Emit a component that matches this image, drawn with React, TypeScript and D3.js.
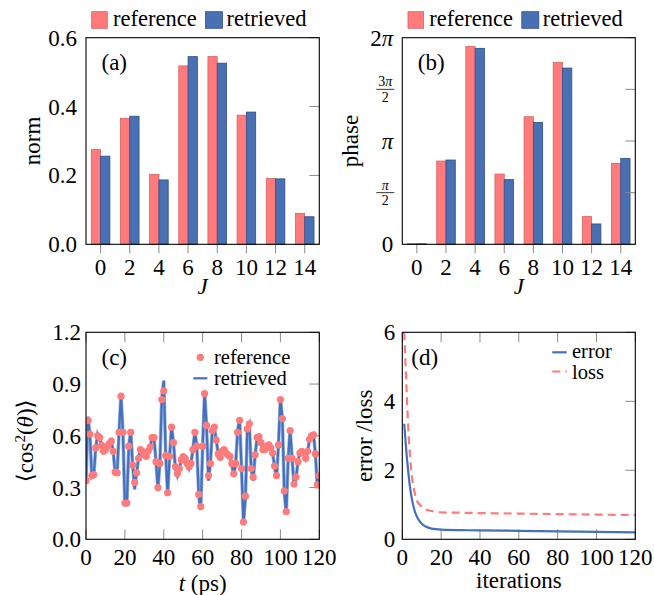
import React from 'react';
import * as d3 from 'd3';

const FONT = '"Liberation Serif", "DejaVu Serif", serif';
const RED = '#FF7B7B';
const RED_EDGE = '#D9625F';
const BLUE = '#4A70B4';
const BLUE_EDGE = '#2F4E8A';
const LINE_BLUE = '#4470BF';
const TICK = '#8a8a8a';

// ---- data ----
const J = [0, 2, 4, 6, 8, 10, 12, 14];
const normRef = [0.275, 0.366, 0.203, 0.518, 0.545, 0.375, 0.191, 0.09];
const normRet = [0.256, 0.372, 0.187, 0.545, 0.526, 0.384, 0.19, 0.08];
// phase in units of pi
const phaseRef = [0.006, 0.806, 1.916, 0.68, 1.235, 1.761, 0.268, 0.784];
const phaseRet = [0.005, 0.816, 1.897, 0.626, 1.18, 1.706, 0.197, 0.832];

const normTicks = [0, 0.2, 0.4, 0.6];
const phaseTicks = [0, 0.5, 1, 1.5, 2];

const cosRef = [
  0.34, 0.69, 0.61, 0.37, 0.375, 0.53, 0.60, 0.59, 0.545, 0.51,
  0.52, 0.54, 0.555, 0.57, 0.51, 0.39, 0.385, 0.62, 0.83, 0.62,
  0.21, 0.21, 0.54, 0.62, 0.43, 0.33, 0.385, 0.47, 0.52, 0.51,
  0.49, 0.48, 0.51, 0.535, 0.59, 0.59, 0.45, 0.30, 0.44, 0.81,
  0.86, 0.485, 0.27, 0.48, 0.65, 0.56, 0.42, 0.38, 0.41, 0.46,
  0.48, 0.47, 0.44, 0.42, 0.44, 0.52, 0.62, 0.54, 0.26, 0.19,
  0.54, 0.845, 0.66, 0.37, 0.44, 0.63, 0.65, 0.575, 0.495, 0.475,
  0.51, 0.52, 0.50, 0.49, 0.48, 0.44, 0.38, 0.44, 0.62, 0.69,
  0.41, 0.10, 0.25, 0.64, 0.67, 0.41, 0.36, 0.49, 0.59, 0.595,
  0.56, 0.52, 0.52, 0.54, 0.547, 0.53, 0.50, 0.425, 0.37, 0.547,
  0.81, 0.70, 0.28, 0.16, 0.47, 0.63, 0.47, 0.32, 0.36, 0.45,
  0.50, 0.51, 0.50, 0.47, 0.51, 0.58, 0.60, 0.605, 0.495, 0.315, 0.37,
];
const cosRet = [
  0.33, 0.71, 0.61, 0.36, 0.37, 0.53, 0.61, 0.59, 0.545, 0.51,
  0.52, 0.54, 0.555, 0.57, 0.51, 0.38, 0.38, 0.62, 0.84, 0.62,
  0.20, 0.20, 0.54, 0.63, 0.43, 0.29, 0.38, 0.47, 0.52, 0.51,
  0.49, 0.48, 0.51, 0.535, 0.59, 0.59, 0.45, 0.29, 0.44, 0.82,
  0.92, 0.485, 0.26, 0.48, 0.66, 0.56, 0.41, 0.37, 0.41, 0.46,
  0.48, 0.47, 0.44, 0.41, 0.44, 0.52, 0.63, 0.54, 0.25, 0.17,
  0.54, 0.86, 0.66, 0.34, 0.44, 0.64, 0.65, 0.575, 0.495, 0.475,
  0.51, 0.52, 0.50, 0.49, 0.48, 0.43, 0.37, 0.44, 0.63, 0.70,
  0.41, 0.09, 0.24, 0.65, 0.67, 0.40, 0.34, 0.49, 0.59, 0.595,
  0.56, 0.52, 0.52, 0.54, 0.547, 0.53, 0.50, 0.42, 0.35, 0.547,
  0.82, 0.70, 0.27, 0.15, 0.47, 0.64, 0.47, 0.31, 0.35, 0.45,
  0.50, 0.51, 0.50, 0.47, 0.51, 0.58, 0.60, 0.61, 0.495, 0.30, 0.37,
];
const times = cosRef.map((_, i) => i);
const cosTicks = [0, 0.3, 0.6, 0.9, 1.2];
const timeTicks = [0, 20, 40, 60, 80, 100, 120];

const iters = [1, 2, 3, 4, 5, 6, 7, 8, 10, 12, 15, 20, 30, 40, 60, 80, 100, 120];
const errorVals = [3.35, 2.6, 2.0, 1.5, 1.15, 0.9, 0.72, 0.6, 0.45, 0.37, 0.31, 0.28, 0.265, 0.26, 0.245, 0.23, 0.215, 0.2];
const lossVals = [6.0, 4.6, 3.3, 2.4, 1.8, 1.45, 1.2, 1.07, 0.95, 0.87, 0.82, 0.78, 0.77, 0.76, 0.745, 0.73, 0.715, 0.705];
const lossTicks = [0, 2, 4, 6];
const iterTicks = [0, 20, 40, 60, 80, 100, 120];

// ---- layout ----
const TOP1 = 37.7, BOT1 = 244.3, TOP2 = 332.3, BOT2 = 539.3;
const L1 = 86, R1 = 319.3, L2 = 402.3, R2 = 635.3;
const FS = 23;
const LFS = 20.5;

function BarPanel({ left, right, refVals, retVals, yDomain, yTicks, yTickLabel, yLabel, yLabelX, tag }: any) {
  const x = d3.scaleBand<string>().domain(J.map(String)).range([left, right]).paddingInner(0).paddingOuter(0);
  const y = d3.scaleLinear().domain(yDomain).range([BOT1, TOP1]);
  const bw = 9.3;
  return (
    <g>
      {J.map((j, i) => {
        const cx = (x(String(j)) as number) + x.bandwidth() / 2;
        return (
          <g key={j}>
            <rect x={cx - bw} y={y(refVals[i])} width={bw} height={BOT1 - y(refVals[i])} fill={RED} stroke={RED_EDGE} strokeWidth={0.8} />
            <rect x={cx} y={y(retVals[i])} width={bw} height={BOT1 - y(retVals[i])} fill={BLUE} stroke={BLUE_EDGE} strokeWidth={0.8} />
            <line x1={cx} x2={cx} y1={BOT1} y2={BOT1 + 9} stroke={TICK} strokeWidth={1} />
            <text x={cx} y={BOT1 + 31} textAnchor="middle" fontSize={FS}>{j}</text>
          </g>
        );
      })}
      {yTicks.map((t: number) => (
        <g key={t}>
          <line x1={right - 10} x2={right} y1={y(t)} y2={y(t)} stroke={TICK} strokeWidth={1} />
          {yTickLabel(t, left - 9, y(t))}
        </g>
      ))}
      <rect x={left} y={TOP1} width={right - left} height={BOT1 - TOP1} fill="none" stroke="#000" strokeWidth={1.1} />
      <text x={left + 15.5} y={TOP1 + 24} dy="0.35em" fontSize={FS}>{tag}</text>
      <text transform={`translate(${yLabelX},${(TOP1 + BOT1) / 2}) rotate(-90)`} textAnchor="middle" dy="0.35em" fontSize={FS}>{yLabel}</text>
      <text x={(left + right) / 2} y={BOT1 + 50} textAnchor="middle" fontSize={FS} fontStyle="italic">J</text>
      {/* legend */}
      <rect x={left + 5.7} y={11.7} width={15.6} height={16.6} fill={RED} stroke={RED_EDGE} strokeWidth={0.8} />
      <text x={left + 27} y={26} fontSize={22.5}>reference</text>
      <rect x={left + 119.5} y={11.7} width={17} height={16.6} fill={BLUE} stroke={BLUE_EDGE} strokeWidth={0.8} />
      <text x={left + 140.5} y={26} fontSize={22.5}>retrieved</text>
    </g>
  );
}

function normLabel(t: number, x: number, y: number) {
  return <text x={x} y={y} dy="0.35em" textAnchor="end" fontSize={FS}>{t.toFixed(1)}</text>;
}

function phaseLabel(t: number, x: number, y: number) {
  if (t === 0) return <text x={x} y={y} dy="0.35em" textAnchor="end" fontSize={FS}>0</text>;
  if (t === 1) return <text x={x} y={y} dy="0.35em" textAnchor="end" fontSize={FS} fontStyle="italic">π</text>;
  if (t === 2) return (
    <text x={x} y={y} dy="0.35em" textAnchor="end" fontSize={FS}>2<tspan fontStyle="italic">π</tspan></text>
  );
  const num = t === 1.5 ? '3' : '';
  const cx = x - 8;
  return (
    <g>
      <text x={cx} y={y - 3} textAnchor="middle" fontSize={14}>{num}<tspan fontStyle="italic">π</tspan></text>
      <line x1={cx - 9} x2={cx + 9} y1={y} y2={y} stroke="#000" strokeWidth={0.8} />
      <text x={cx} y={y + 12.5} textAnchor="middle" fontSize={14}>2</text>
    </g>
  );
}

function CosPanel() {
  const x = d3.scaleLinear().domain([0, 120]).range([L1, R1]);
  const y = d3.scaleLinear().domain([0, 1.2]).range([BOT2, TOP2]);
  const line = d3.line<number>().x((_, i) => x(times[i])).y((d) => y(d));
  return (
    <g>
      <defs>
        <clipPath id="clipc"><rect x={L1} y={TOP2} width={R1 - L1} height={BOT2 - TOP2} /></clipPath>
      </defs>
      {timeTicks.map((t) => (
        <g key={t}>
          <line x1={x(t)} x2={x(t)} y1={TOP2} y2={TOP2 + 10} stroke={TICK} />
          <line x1={x(t)} x2={x(t)} y1={BOT2} y2={BOT2 - 10} stroke={TICK} />
          <text x={x(t)} y={BOT2 + 25.5} textAnchor="middle" fontSize={FS}>{t}</text>
        </g>
      ))}
      {cosTicks.map((t) => (
        <g key={t}>
          <line x1={R1 - 10} x2={R1} y1={y(t)} y2={y(t)} stroke={TICK} />
          <text x={L1 - 5} y={y(t)} dy="0.35em" textAnchor="end" fontSize={FS}>{t.toFixed(1)}</text>
        </g>
      ))}
      <g clipPath="url(#clipc)">
        <path d={line(cosRet) as string} fill="none" stroke="#9db3dc" strokeWidth={3.6} strokeLinejoin="miter" strokeMiterlimit={4} />
        <path d={line(cosRet) as string} fill="none" stroke={LINE_BLUE} strokeWidth={2.2} strokeLinejoin="miter" strokeMiterlimit={4} />
        {cosRef.map((v, i) => (
          <circle key={i} cx={x(times[i])} cy={y(v)} r={3.6} fill={RED} />
        ))}
      </g>
      <rect x={L1} y={TOP2} width={R1 - L1} height={BOT2 - TOP2} fill="none" stroke="#000" strokeWidth={1.1} />
      <text x={L1 + 15.5} y={TOP2 + 24.5} dy="0.35em" fontSize={FS}>(c)</text>
      <circle cx={200.3} cy={357.3} r={3.6} fill={RED} />
      <text x={214} y={357} dy="0.32em" fontSize={LFS}>reference</text>
      <line x1={193.3} x2={207.3} y1={378.3} y2={378.3} stroke={LINE_BLUE} strokeWidth={2.2} />
      <text x={214} y={378.5} dy="0.32em" fontSize={LFS}>retrieved</text>
      <text transform={`translate(25,${(TOP2 + BOT2) / 2 + 5}) rotate(-90)`} textAnchor="middle" dy="0.35em" fontSize={FS}>
        ⟨cos<tspan dy="-8" fontSize={15}>2</tspan><tspan dy="8">(</tspan><tspan fontStyle="italic">θ</tspan>)⟩
      </text>
      <text x={(L1 + R1) / 2} y={591} textAnchor="middle" fontSize={FS}>
        <tspan fontStyle="italic">t</tspan> (ps)
      </text>
    </g>
  );
}

function LossPanel() {
  const x = d3.scaleLinear().domain([0, 120]).range([L2, R2]);
  const y = d3.scaleLinear().domain([0, 6]).range([BOT2, TOP2]);
  const line = d3.line<number>().x((_, i) => x(iters[i])).y((d) => y(d)).curve(d3.curveMonotoneX);
  return (
    <g>
      <defs>
        <clipPath id="clipd"><rect x={L2} y={TOP2} width={R2 - L2} height={BOT2 - TOP2} /></clipPath>
      </defs>
      {iterTicks.map((t) => (
        <g key={t}>
          <line x1={x(t)} x2={x(t)} y1={TOP2} y2={TOP2 + 10} stroke={TICK} />
          <line x1={x(t)} x2={x(t)} y1={BOT2} y2={BOT2 - 10} stroke={TICK} />
          <text x={x(t)} y={BOT2 + 25.5} textAnchor="middle" fontSize={FS}>{t}</text>
        </g>
      ))}
      {lossTicks.map((t) => (
        <g key={t}>
          <line x1={R2 - 10} x2={R2} y1={y(t)} y2={y(t)} stroke={TICK} />
          <text x={L2 - 7} y={y(t)} dy="0.35em" textAnchor="end" fontSize={FS}>{t}</text>
        </g>
      ))}
      <g clipPath="url(#clipd)">
        <path d={line(lossVals) as string} fill="none" stroke={RED} strokeWidth={2.2} strokeDasharray="8,5" />
        <path d={line(errorVals) as string} fill="none" stroke={LINE_BLUE} strokeWidth={2.2} />
      </g>
      <rect x={L2} y={TOP2} width={R2 - L2} height={BOT2 - TOP2} fill="none" stroke="#000" strokeWidth={1.1} />
      <text x={L2 + 9} y={TOP2 + 24.5} dy="0.35em" fontSize={FS}>(d)</text>
      <line x1={552.3} x2={566.7} y1={352.3} y2={352.3} stroke={LINE_BLUE} strokeWidth={2.2} />
      <text x={572} y={351.5} dy="0.32em" fontSize={LFS}>error</text>
      <line x1={552.3} x2={566.7} y1={371.5} y2={371.5} stroke={RED} strokeWidth={2.2} strokeDasharray="8,5" />
      <text x={572} y={372} dy="0.32em" fontSize={LFS}>loss</text>
      <text transform={`translate(364,${(TOP2 + BOT2) / 2}) rotate(-90)`} textAnchor="middle" dy="0.35em" fontSize={FS}>error /loss</text>
      <text x={(L2 + R2) / 2} y={588} textAnchor="middle" fontSize={FS}>iterations</text>
    </g>
  );
}

export default function App() {
  return (
    <svg width={654} height={595} style={{ position: 'absolute', left: 0, top: 0, background: '#fff', fontFamily: FONT }}>
      <rect x={0} y={0} width={654} height={595} fill="#fff" />
      <BarPanel left={L1} right={R1} refVals={normRef} retVals={normRet} yDomain={[0, 0.6]} yTicks={normTicks}
        yTickLabel={normLabel} yLabel="norm" yLabelX={32} tag="(a)" />
      <BarPanel left={L2} right={R2} refVals={phaseRef} retVals={phaseRet} yDomain={[0, 2]} yTicks={phaseTicks}
        yTickLabel={phaseLabel} yLabel="phase" yLabelX={350} tag="(b)" />
      <CosPanel />
      <LossPanel />
    </svg>
  );
}
